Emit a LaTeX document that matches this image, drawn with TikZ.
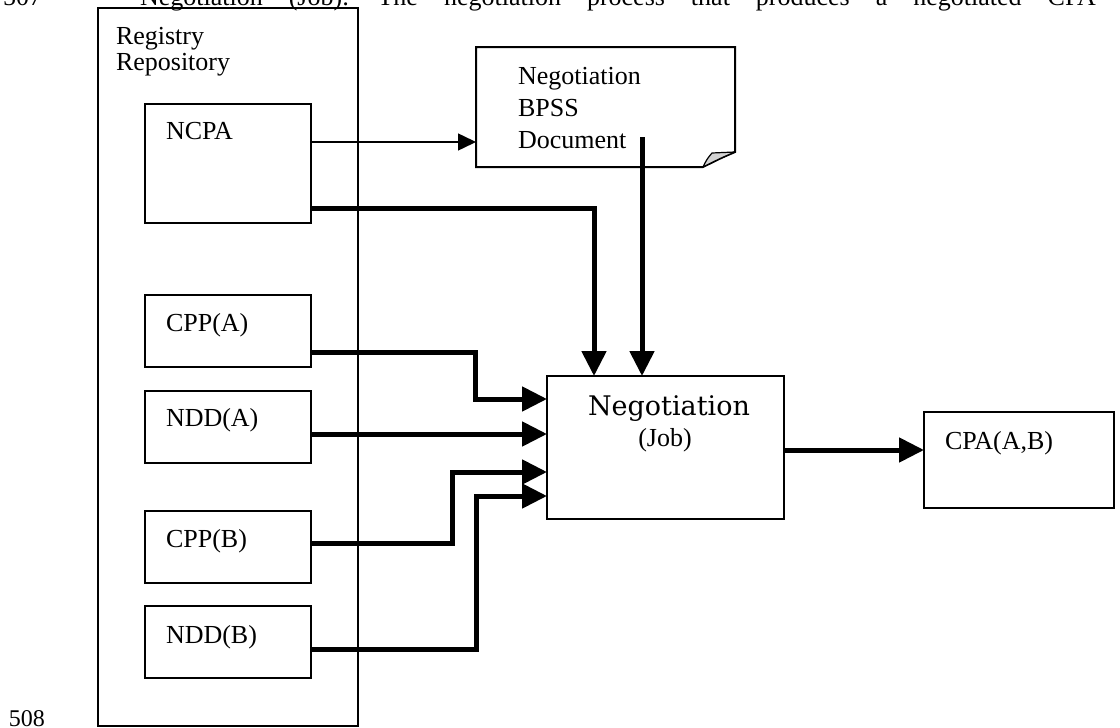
\documentclass[tikz,border=0pt]{standalone}
\usepackage{fontspec}
\setmainfont{Liberation Serif}
\newfontfamily\jobfont{DejaVu Serif}
\usetikzlibrary{arrows.meta}
\begin{document}
\begin{tikzpicture}[x=1pt,y=-1pt,
  box/.style={draw, line width=2pt, inner sep=0pt, outer sep=0pt, anchor=north west},
  lbl/.style={inner sep=0pt, outer sep=0pt, anchor=base west, font=\fontsize{26}{31}\selectfont},
  link/.style={line width=5pt, -{Triangle[length=25pt,width=24pt]}},
  thinlink/.style={line width=1.5pt, -{Triangle[length=18pt,width=17pt]}}]
\useasboundingbox (0,0) rectangle (1120,728);
\clip (0,0) rectangle (1120,728);
% clipped text line and line numbers
\node[lbl] (ln507) at (3,5.5) {507};
\node[lbl] (hdr) at (140,5.5) {\spaceskip=26pt plus 2pt\relax Negotiation (Job): The negotiation process that produces a negotiated CPA};
\node[lbl, font=\fontsize{24}{28}\selectfont] (ln508) at (9,726.5) {508};
% registry
\node[box, minimum width=260pt, minimum height=718pt] (reg) at (98,8) {};
\node[lbl] (regt1) at (116,45) {Registry};
\node[lbl] (regt2) at (116,70) {Repository};
\node[box, minimum width=166pt, minimum height=119pt] (ncpa) at (145,104) {};
\node[box, minimum width=166pt, minimum height=72pt] (cppa) at (145,295) {};
\node[box, minimum width=166pt, minimum height=72pt] (ndda) at (145,391) {};
\node[box, minimum width=166pt, minimum height=72pt] (cppb) at (145,511) {};
\node[box, minimum width=166pt, minimum height=72pt] (nddb) at (145,606) {};
\node[lbl] (ncpat) at (166,139) {NCPA};
\node[lbl] (cppat) at (166,331) {CPP(A)};
\node[lbl] (nddat) at (166,426) {NDD(A)};
\node[lbl] (cppbt) at (166,547) {CPP(B)};
\node[lbl] (nddbt) at (166,643) {NDD(B)};
% document
\node[inner sep=0pt, outer sep=0pt, anchor=north west, minimum width=259pt, minimum height=120pt] (doc) at (476,47) {};
\draw[line width=2pt, line join=miter] (doc.north west) -- (doc.north east) -- ([yshift=15pt]doc.south east)
   .. controls ([xshift=-14pt,yshift=9pt]doc.south east) .. ([xshift=-32pt]doc.south east) -- (doc.south west) -- cycle;
\filldraw[fill=gray!35, line width=1.2pt, line join=round] ([xshift=-32pt]doc.south east)
   .. controls ([xshift=-28pt,yshift=8pt]doc.south east) .. ([xshift=-23pt,yshift=14pt]doc.south east)
   .. controls ([xshift=-12pt,yshift=14pt]doc.south east) .. ([yshift=15pt]doc.south east)
   .. controls ([xshift=-14pt,yshift=9pt]doc.south east) .. cycle;
\node[lbl] (doct1) at (518,84) {Negotiation};
\node[lbl] (doct2) at (518,116) {BPSS};
\node[lbl] (doct3) at (518,148) {Document};
% job
\node[box, minimum width=237pt, minimum height=143pt] (job) at (547,376) {};
\node[inner sep=0pt, anchor=base, font=\jobfont\fontsize{27}{32}\selectfont] (jobt) at (669,415) {Negotiation};
\node[lbl, anchor=base] (jobsub) at (665,446) {(Job)};
% cpa
\node[box, minimum width=190pt, minimum height=96pt] (cpa) at (924,412) {};
\node[lbl] (cpat) at (945,449) {CPA(A,B)};
% connectors
\draw[thinlink] ([yshift=-38pt]ncpa.north east) -- ([yshift=-95pt]doc.north west);
\draw[link] ([yshift=-104pt]ncpa.north east) -| ([xshift=47pt]job.north west);
\draw[link] ([xshift=166pt,yshift=-90pt]doc.north west) -- ([xshift=95pt]job.north west);
\draw[link] ([yshift=-57pt]cppa.north east) -- ++(164,0) |- ([yshift=-23pt]job.north west);
\draw[link] ([yshift=-43pt]ndda.north east) -- ([yshift=-58pt]job.north west);
\draw[link] ([yshift=-32pt]cppb.north east) -- ++(141,0) |- ([yshift=-96pt]job.north west);
\draw[link] ([yshift=-43pt]nddb.north east) -- ++(165,0) |- ([yshift=-120pt]job.north west);
\draw[link] ([yshift=-74pt]job.north east) -- ([yshift=-38pt]cpa.north west);
\end{tikzpicture}
\end{document}
